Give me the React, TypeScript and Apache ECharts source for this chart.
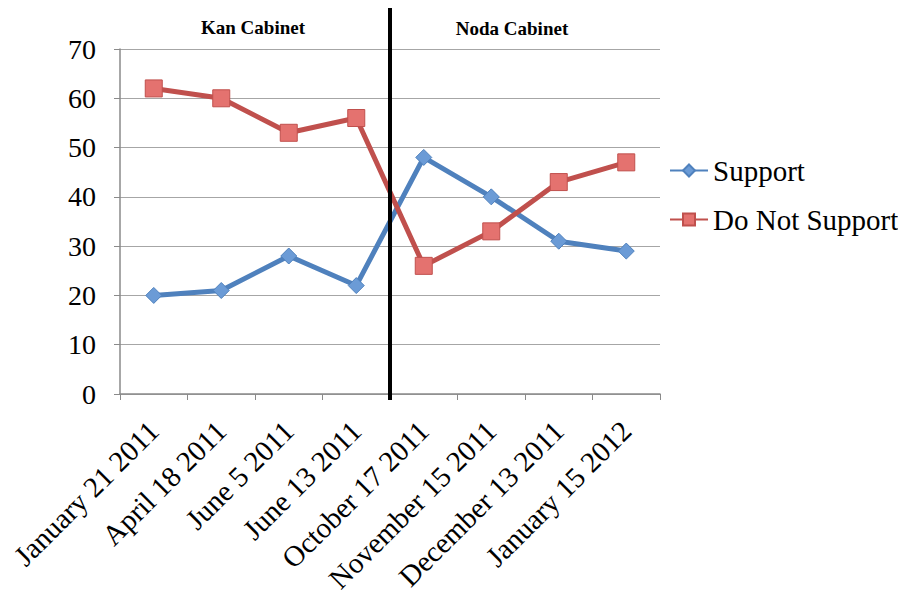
import React, { useEffect, useRef } from "react";
import * as echarts from "echarts";

const categories = [
  "January 21 2011",
  "April 18 2011",
  "June 5 2011",
  "June 13 2011",
  "October 17 2011",
  "November 15 2011",
  "December 13 2011",
  "January 15 2012",
];
const supportValues = [20, 21, 28, 22, 48, 40, 31, 29];
const doNotSupportValues = [62, 60, 53, 56, 26, 33, 43, 47];
const yTicks = { min: 0, max: 70, interval: 10 };
const cabinetTitles = ["Kan Cabinet", "Noda Cabinet"];

const SERIF = "Liberation Serif";

export default function App() {
  const ref = useRef<HTMLDivElement>(null);
  useEffect(() => {
    if (!ref.current) return;
    const chart = echarts.init(ref.current, undefined, { renderer: "svg" });
    const option: any = {
      animation: false,
      backgroundColor: "#ffffff",
      textStyle: { fontFamily: SERIF },
      grid: { left: 120, right: 246, top: 49, bottom: 204 },
      legend: {
        orient: "vertical",
        left: 664,
        top: 151,
        itemWidth: 38,
        itemHeight: 15,
        itemGap: 20,
        textStyle: { fontFamily: SERIF, fontSize: 29, color: "#000" },
        data: ["Support", "Do Not Support"],
      },
      xAxis: {
        type: "category",
        data: categories,
        boundaryGap: true,
        axisLine: { show: true, lineStyle: { color: "#8a8a8a", width: 1.5 } },
        axisTick: { show: true, length: 6, lineStyle: { color: "#8a8a8a" } },
        axisLabel: {
          rotate: 45,
          interval: 0,
          margin: 32,
          fontFamily: SERIF,
          fontSize: 29,
          color: "#000",
        },
        splitLine: { show: false },
      },
      yAxis: {
        type: "value",
        min: yTicks.min,
        max: yTicks.max,
        interval: yTicks.interval,
        axisLine: { show: true, lineStyle: { color: "#8a8a8a", width: 1.5 } },
        axisTick: { show: true, length: 6, lineStyle: { color: "#8a8a8a" } },
        axisLabel: { fontFamily: SERIF, fontSize: 28, color: "#000", margin: 24 },
        splitLine: { show: true, lineStyle: { color: "#a6a6a6", width: 1.2 } },
      },
      series: [
        {
          name: "Support",
          type: "line",
          data: supportValues,
          symbol: "diamond",
          symbolSize: 16,
          lineStyle: { color: "#4f81bd", width: 5 },
          itemStyle: { color: "#6b9bd6", borderColor: "#4f81bd", borderWidth: 1 },
          z: 3,
        },
        {
          name: "Do Not Support",
          type: "line",
          data: doNotSupportValues,
          symbol: "rect",
          symbolSize: 17,
          lineStyle: { color: "#c0504d", width: 5 },
          itemStyle: { color: "#e4726f", borderColor: "#c0504d", borderWidth: 1 },
          z: 3,
        },
      ],
    };
    chart.setOption(option);

    const x0 = chart.convertToPixel({ xAxisIndex: 0 }, 0) as number;
    const x1 = chart.convertToPixel({ xAxisIndex: 0 }, 1) as number;
    const step = x1 - x0;
    const half = categories.length / 2;
    const divideX = x0 + (half - 0.5) * step;
    const leftCenter = x0 + (half / 2 - 0.5) * step - 2;
    const rightCenter = x0 + (half + half / 2 - 0.5) * step - 13;

    chart.setOption({
      graphic: [
        {
          type: "line",
          shape: { x1: divideX, y1: 6, x2: divideX, y2: 400 },
          style: { stroke: "#000", lineWidth: 4 },
          z: 10,
        },
        {
          type: "text",
          x: leftCenter,
          y: 27,
          style: {
            text: cabinetTitles[0],
            fontFamily: SERIF,
            fontWeight: "bold",
            fontSize: 19,
            fill: "#000",
            align: "center",
            verticalAlign: "middle",
          },
        },
        {
          type: "text",
          x: rightCenter,
          y: 28,
          style: {
            text: cabinetTitles[1],
            fontFamily: SERIF,
            fontWeight: "bold",
            fontSize: 19,
            fill: "#000",
            align: "center",
            verticalAlign: "middle",
          },
        },
      ],
    });

    return () => chart.dispose();
  }, []);
  return <div ref={ref} style={{ width: 906, height: 598, margin: -8 }} />;
}
